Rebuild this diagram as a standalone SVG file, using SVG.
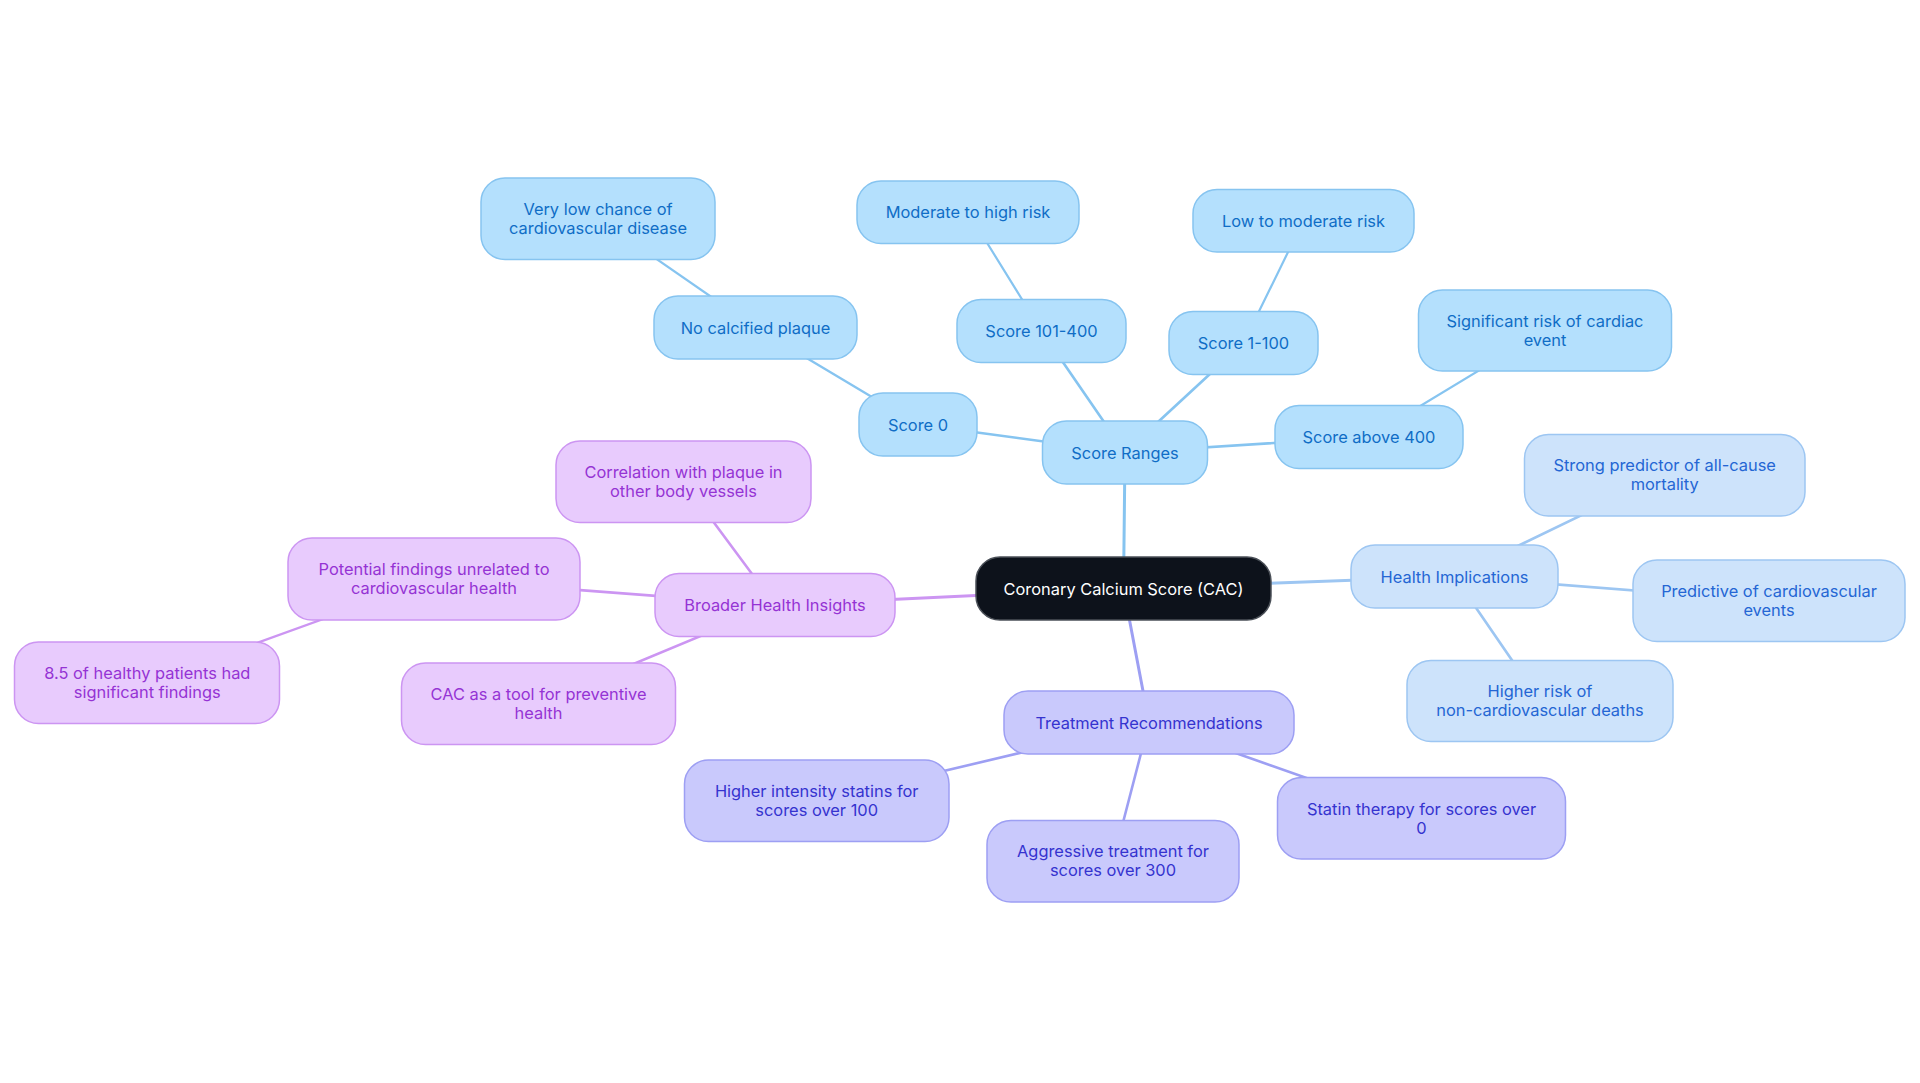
<svg xmlns="http://www.w3.org/2000/svg" width="1920" height="1083" viewBox="0 0 1920 1083">
<style>
text{font-family:Inter,"Noto Sans","Liberation Sans",sans-serif;font-size:16.4px;text-anchor:middle}
.n rect{stroke-width:1.5}
.c rect{fill:#0d121b;stroke:#4b5058}
.c text{fill:#ffffff}
.s rect{fill:#b4e0fd;stroke:#86c4f0}
.s text{fill:#0f6dc6}
.h rect{fill:#cde3fb;stroke:#9dc6f2}
.h text{fill:#2466d4}
.t rect{fill:#c9c9fc;stroke:#9d9ff3}
.t text{fill:#3533cf}
.b rect{fill:#e8cbfd;stroke:#cc95f2}
.b text{fill:#9533d4}
#edges line{fill:none;stroke-linecap:round}
.es{stroke:#86c4f0}.eh{stroke:#9dc6f2}.et{stroke:#9d9ff3}.eb{stroke:#cc95f2}
.w1{stroke-width:3}.w2{stroke-width:2.6}.w3{stroke-width:2.2}
</style>
<rect width="1920" height="1083" fill="#ffffff"/>
<g id="edges">
<line class="es w1" x1="1123.5" y1="588.5" x2="1125" y2="452.5"/>
<line class="eh w1" x1="1123.5" y1="588.5" x2="1454.5" y2="576.5"/>
<line class="et w1" x1="1123.5" y1="588.5" x2="1149" y2="722.5"/>
<line class="eb w1" x1="1123.5" y1="588.5" x2="775" y2="605"/>
<line class="es w2" x1="1125" y1="452.5" x2="918" y2="424.5"/>
<line class="es w2" x1="1125" y1="452.5" x2="1041.5" y2="331"/>
<line class="es w2" x1="1125" y1="452.5" x2="1243.5" y2="343"/>
<line class="es w2" x1="1125" y1="452.5" x2="1369" y2="437"/>
<line class="es w3" x1="918" y1="424.5" x2="755.5" y2="327.5"/>
<line class="es w3" x1="755.5" y1="327.5" x2="598" y2="218.5"/>
<line class="es w3" x1="1041.5" y1="331" x2="968" y2="212"/>
<line class="es w3" x1="1243.5" y1="343" x2="1303.5" y2="220.5"/>
<line class="es w3" x1="1369" y1="437" x2="1545" y2="330.5"/>
<line class="eh w2" x1="1454.5" y1="576.5" x2="1664.7" y2="475"/>
<line class="eh w2" x1="1454.5" y1="576.5" x2="1769" y2="601"/>
<line class="eh w2" x1="1454.5" y1="576.5" x2="1540" y2="701"/>
<line class="et w2" x1="1149" y1="722.5" x2="816.7" y2="801"/>
<line class="et w2" x1="1149" y1="722.5" x2="1113" y2="861"/>
<line class="et w2" x1="1149" y1="722.5" x2="1421.5" y2="818.5"/>
<line class="eb w2" x1="775" y1="605" x2="683.5" y2="481.5"/>
<line class="eb w2" x1="775" y1="605" x2="434" y2="579"/>
<line class="eb w2" x1="775" y1="605" x2="538.5" y2="703.5"/>
<line class="eb w3" x1="434" y1="579" x2="147.3" y2="682.5"/>
</g>
<g id="cac" class="n c"><rect x="976" y="557" width="295" height="63" rx="24"/><text x="1123.5" y="594.5">Coronary Calcium Score (CAC)</text></g>
<g id="score-ranges" class="n s"><rect x="1042.5" y="421" width="165" height="63" rx="24"/><text x="1125" y="458.5">Score Ranges</text></g>
<g id="score-0" class="n s"><rect x="859" y="393" width="118" height="63" rx="24"/><text x="918" y="430.5">Score 0</text></g>
<g id="score-101-400" class="n s"><rect x="957" y="299.5" width="169" height="63" rx="24"/><text x="1041.5" y="337">Score 101-400</text></g>
<g id="score-1-100" class="n s"><rect x="1169" y="311.5" width="149" height="63" rx="24"/><text x="1243.5" y="349">Score 1-100</text></g>
<g id="score-above-400" class="n s"><rect x="1275" y="405.5" width="188" height="63" rx="24"/><text x="1369" y="443">Score above 400</text></g>
<g id="no-calcified" class="n s"><rect x="654" y="296" width="203" height="63" rx="24"/><text x="755.5" y="333.5">No calcified plaque</text></g>
<g id="very-low" class="n s"><rect x="481" y="178" width="234" height="81.5" rx="24"/><text x="598" y="214.5">Very low chance of</text><text x="598" y="233.5">cardiovascular disease</text></g>
<g id="moderate-high" class="n s"><rect x="857" y="181" width="222" height="62.5" rx="24"/><text x="968" y="218">Moderate to high risk</text></g>
<g id="low-moderate" class="n s"><rect x="1193" y="189.5" width="221" height="62.5" rx="24"/><text x="1303.5" y="226.5">Low to moderate risk</text></g>
<g id="significant" class="n s"><rect x="1418.5" y="290" width="253" height="81" rx="24"/><text x="1545" y="326.5">Significant risk of cardiac</text><text x="1545" y="345.5">event</text></g>
<g id="health" class="n h"><rect x="1351" y="545" width="207" height="63" rx="24"/><text x="1454.5" y="582.5">Health Implications</text></g>
<g id="strong" class="n h"><rect x="1524.5" y="434.5" width="280.5" height="81.5" rx="24"/><text x="1664.7" y="471">Strong predictor of all-cause</text><text x="1664.7" y="490">mortality</text></g>
<g id="predictive" class="n h"><rect x="1633" y="560" width="272" height="81.5" rx="24"/><text x="1769" y="597">Predictive of cardiovascular</text><text x="1769" y="616">events</text></g>
<g id="higher-risk" class="n h"><rect x="1407" y="660.5" width="266" height="81" rx="24"/><text x="1540" y="697">Higher risk of</text><text x="1540" y="716">non-cardiovascular deaths</text></g>
<g id="treatment" class="n t"><rect x="1004" y="691" width="290" height="63" rx="24"/><text x="1149" y="728.5">Treatment Recommendations</text></g>
<g id="higher-intensity" class="n t"><rect x="684.5" y="760" width="264.5" height="81.5" rx="24"/><text x="816.7" y="797">Higher intensity statins for</text><text x="816.7" y="816">scores over 100</text></g>
<g id="aggressive" class="n t"><rect x="987" y="820.5" width="252" height="81.5" rx="24"/><text x="1113" y="857">Aggressive treatment for</text><text x="1113" y="876">scores over 300</text></g>
<g id="statin" class="n t"><rect x="1277.5" y="777.5" width="288" height="81.5" rx="24"/><text x="1421.5" y="814.5">Statin therapy for scores over</text><text x="1421.5" y="833.5">0</text></g>
<g id="broader" class="n b"><rect x="655" y="573.5" width="240" height="63" rx="24"/><text x="775" y="611">Broader Health Insights</text></g>
<g id="correlation" class="n b"><rect x="556" y="441" width="255" height="81.5" rx="24"/><text x="683.5" y="477.5">Correlation with plaque in</text><text x="683.5" y="496.5">other body vessels</text></g>
<g id="potential" class="n b"><rect x="288" y="538" width="292" height="82" rx="24"/><text x="434" y="575">Potential findings unrelated to</text><text x="434" y="594">cardiovascular health</text></g>
<g id="healthy-patients" class="n b"><rect x="14.5" y="642" width="265" height="81.5" rx="24"/><text x="147.3" y="678.5">8.5 of healthy patients had</text><text x="147.3" y="697.5">significant findings</text></g>
<g id="cac-tool" class="n b"><rect x="401.5" y="663" width="274" height="81.5" rx="24"/><text x="538.5" y="699.5">CAC as a tool for preventive</text><text x="538.5" y="718.5">health</text></g>
</svg>
